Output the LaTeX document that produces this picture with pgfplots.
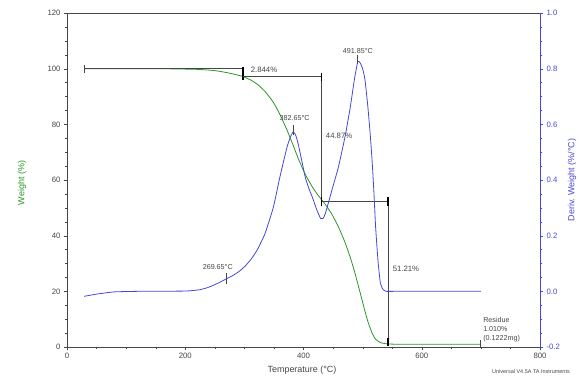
\documentclass[border=0pt]{standalone}
\usepackage{fontspec}
\setmainfont{Liberation Sans}
\usepackage{pgfplots}
\pgfplotsset{compat=1.18}
\definecolor{tgagreen}{RGB}{40,150,40}
\definecolor{dtgblue}{RGB}{70,70,215}
\definecolor{anngray}{RGB}{70,70,70}
\begin{document}
\begin{tikzpicture}[x=1bp,y=1bp]
\useasboundingbox (-67bp,-35bp) rectangle (514bp,347bp);
\pgfplotsset{
  common/.style={
    at={(0,0)}, anchor=south west, scale only axis,
    width=473bp, height=334bp,
    xmin=0, xmax=800,
    tick align=outside,
    major tick length=3bp, minor tick length=1.5bp,
    tick label style={font=\fontsize{7.8}{8}\selectfont},
    /pgf/number format/assume math mode=true,
    clip=false,
  }
}
\begin{axis}[common,
  ymin=0, ymax=120,
  xtick={0,200,400,600,800}, ytick={0,20,40,60,80,100,120},
  minor x tick num=3, minor y tick num=3,
  xtick pos=bottom, ytick pos=left,
  axis line style={anngray},
  tick style={anngray},
  tick label style={text=anngray},
]
% weight curve
\addplot[tgagreen, line width=0.8bp, smooth, tension=0.3] coordinates {
(29,100) (150,100) (220,99.75) (250,99.3) (270,98.6) (285,97.9) (297,97.2)
(310,96.0) (322,94.4) (335,91.8) (349,87.9) (360,83.6) (372,78.0) (382.65,72.4)
(391,67.8) (403,62.0) (415,57.5) (423,55.0) (431,52.8) (437,51.2) (448,47.7)
(459,43.2) (470,37.7) (479,32.3) (486,27.3) (492,22.6) (500,16.1) (504,12.8)
(509,9.1) (516,5.0) (522,2.8) (530,1.6) (540,1.15) (550,1.03) (570,1.01) (700,1.01)};
% step annotations
\addplot[anngray, line width=0.7bp] coordinates {(29,100) (297,100)};
\addplot[anngray, line width=0.9bp] coordinates {(29,98.6) (29,101.4)};
\addplot[black, line width=2bp] coordinates {(297,95.8) (297,100.6)};
\addplot[anngray, line width=0.7bp] coordinates {(297,97.2) (430,97.2) (430,52.3) (543,52.3) (543,1.0)};
\addplot[black, line width=1.2bp] coordinates {(430,95.6) (430,98.6)};
\addplot[black, line width=1.2bp] coordinates {(430,50.8) (430,53.8)};
\addplot[black, line width=1.2bp] coordinates {(543,50.8) (543,53.8)};
\addplot[black, line width=1.2bp] coordinates {(543,0.2) (543,3.2)};
\addplot[anngray, line width=0.9bp] coordinates {(700,0) (700,2.6)};
\node[anchor=west, font=\fontsize{7.8}{8}\selectfont, text=anngray] at (axis cs:305,99.6) {2.844\%};
\node[anchor=west, font=\fontsize{7.8}{8}\selectfont, text=anngray] at (axis cs:432,75.8) {44.87\%};
\node[anchor=west, font=\fontsize{7.8}{8}\selectfont, text=anngray] at (axis cs:545,28) {51.21\%};
\node[anchor=south west, align=left, inner sep=1bp, font=\fontsize{7.2}{9.5}\selectfont, text=anngray] at (axis cs:702,1.2) {Residue\\1.010\%\\(0.1222mg)};
\end{axis}
\begin{axis}[common,
  ymin=-0.2, ymax=1.0,
  axis x line=none, axis y line*=right,
  ytick={-0.2,0,0.2,0.4,0.6,0.8,1.0},
  minor y tick num=3,
  yticklabel style={/pgf/number format/.cd, fixed, fixed zerofill, precision=1},
  axis line style={-, dtgblue},
  tick style={dtgblue},
  tick label style={text=dtgblue},
]
\addplot[dtgblue, line width=0.8bp, smooth, tension=0.3] coordinates {
(29,-0.018) (50,-0.01) (80,-0.002) (120,0) (200,0.001) (225,0.006) (240,0.015)
(255,0.029) (269.65,0.045) (279,0.055) (290,0.07) (301,0.09) (312,0.117)
(322,0.15) (335,0.208) (349,0.302) (360,0.41) (372,0.517) (378,0.555)
(382.65,0.573) (387,0.56) (391,0.53) (397,0.47) (403,0.41) (409,0.37)
(415,0.338) (423,0.29) (429,0.262) (433,0.262) (437,0.28) (448,0.363)
(459,0.446) (470,0.553) (479,0.66) (486,0.76) (491.85,0.826) (496,0.82)
(500,0.80) (504,0.76) (509,0.66) (513,0.56) (516,0.47) (519,0.36) (522,0.23)
(526,0.11) (530,0.03) (535,0.005) (540,0) (560,0) (700,0)};
\addplot[anngray, line width=1bp] coordinates {(269.65,0.025) (269.65,0.065)};
\addplot[anngray, line width=1bp] coordinates {(382.65,0.563) (382.65,0.598)};
\addplot[anngray, line width=1bp] coordinates {(491.85,0.815) (491.85,0.85)};
\node[font=\fontsize{7.2}{8}\selectfont, text=anngray] at (axis cs:255,0.086) {269.65°C};
\node[font=\fontsize{7.2}{8}\selectfont, text=anngray] at (axis cs:385,0.622) {382.65°C};
\node[font=\fontsize{7.2}{8}\selectfont, text=anngray] at (axis cs:492,0.862) {491.85°C};
\end{axis}
\node[rotate=90, text=tgagreen, font=\fontsize{9}{10}\selectfont] at (-45,164) {Weight (\%)};
\node[rotate=90, text=dtgblue, font=\fontsize{9}{10}\selectfont] at (505,167) {Deriv. Weight (\%/°C)};
\node[text=anngray, font=\fontsize{9}{10}\selectfont] at (235,-23) {Temperature (°C)};
\node[text=anngray, font=\fontsize{5.5}{6}\selectfont] at (464,-25) {Universal V4.5A TA Instruments};
\end{tikzpicture}
\end{document}
